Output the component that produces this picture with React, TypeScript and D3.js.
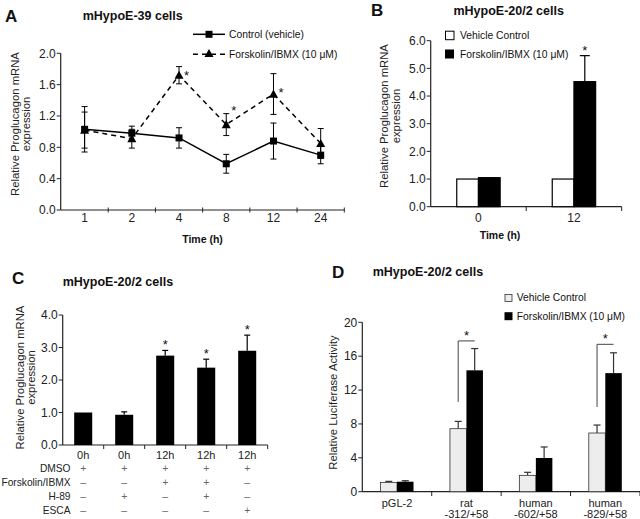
import React from "react";
import * as d3 from "d3";

// ---------- Data ----------
// Panel A
const timeLabelsA = ["1", "2", "4", "8", "12", "24"];
const controlA = [1.03, 0.98, 0.92, 0.59, 0.88, 0.70];
const controlAErr = [0.29, 0.09, 0.13, 0.12, 0.23, 0.11];
const forskA = [1.02, 0.91, 1.72, 1.09, 1.48, 0.85];
const forskAErr = [0.23, 0.12, 0.11, 0.14, 0.26, 0.19];
const starA: (number | null)[] = [null, null, 1.75, 1.3, 1.53, null];
const yTicksA = [0, 0.4, 0.8, 1.2, 1.6, 2.0];

// Panel B
const timeLabelsB = ["0", "12"];
const vehicleB = [1.0, 1.0];
const forskB = [1.05, 4.52];
const forskBErr = [0, 0.94];
const starB = [false, true];
const yTicksB = [0, 1, 2, 3, 4, 5, 6];

// Panel C
const timeLabelsC = ["0h", "0h", "12h", "12h", "12h"];
const valuesC = [1.0, 0.93, 2.75, 2.38, 2.9];
const errC = [0, 0.09, 0.16, 0.26, 0.48];
const starC = [false, false, true, true, true];
const rowNamesC = ["DMSO", "Forskolin/IBMX", "H-89", "ESCA"];
const dmsoC = ["+", "+", "+", "+", "+"];
const forskC = ["–", "–", "+", "+", "–"];
const h89C = ["–", "+", "–", "+", "–"];
const escaC = ["–", "–", "–", "–", "+"];
const yTicksC = [0, 1, 2, 3, 4];

// Panel D
const constructsD = ["pGL-2", "rat", "human", "human"];
const constructs2D = ["", "-312/+58", "-602/+58", "-829/+58"];
const vehicleD = [1.1, 7.44, 1.93, 6.93];
const vehicleDErr = [0.12, 0.86, 0.36, 0.94];
const forskD = [1.18, 14.33, 3.98, 14.0];
const forskDErr = [0.12, 2.57, 1.3, 2.4];
const bracketLowD: (number | null)[] = [null, 10.6, null, 10.0];
const bracketHighD: (number | null)[] = [null, 17.8, null, 17.4];
const yTicksD = [0, 4, 8, 12, 16, 20];

const FONT = "'Liberation Sans', Arial, Helvetica, sans-serif";
const AX = "#222";

function YAxis({ y, ticks, x, fmt }: any) {
  const [r0, r1] = y.range();
  return (
    <g>
      <line x1={x} x2={x} y1={r0} y2={r1} stroke={AX} strokeWidth={1.2} />
      {ticks.map((t: number) => (
        <g key={t}>
          <line x1={x - 4} x2={x} y1={y(t)} y2={y(t)} stroke={AX} strokeWidth={1} />
          <text x={x - 5} y={y(t)} dy="0.35em" textAnchor="end" fontSize={12} fill="#222" fontFamily={FONT}>
            {fmt(t)}
          </text>
        </g>
      ))}
    </g>
  );
}

export default function App() {
  // ---------- Panel A ----------
  const xA = d3.scaleBand<string>().domain(timeLabelsA).range([61, 344.3]);
  const yA = d3.scaleLinear().domain([0, 2]).range([210, 53.3]);
  const cxA = (i: number) => (xA(timeLabelsA[i]) as number) + xA.bandwidth() / 2;
  const lineA = d3
    .line<number>()
    .x((_, i) => cxA(i))
    .y((d) => yA(d));

  // ---------- Panel B ----------
  const xB = d3.scaleBand<string>().domain(timeLabelsB).range([430.7, 621.7]);
  const xBi = d3.scaleBand<string>().domain(["veh", "forsk"]).range([-21.7, 21.7]);
  const yB = d3.scaleLinear().domain([0, 6]).range([206.7, 40.7]);
  const cB = (i: number) => (xB(timeLabelsB[i]) as number) + xB.bandwidth() / 2;

  // ---------- Panel C ----------
  const idxC = valuesC.map((_, i) => String(i));
  const xC = d3.scaleBand<string>().domain(idxC).range([62.7, 267.7]);
  const yC = d3.scaleLinear().domain([0, 4]).range([445, 315]);
  const bwC = xC.bandwidth() * 0.44;
  const cC = (i: number) => (xC(idxC[i]) as number) + xC.bandwidth() / 2;
  const rowsC = [dmsoC, forskC, h89C, escaC];

  // ---------- Panel D ----------
  const idxD = constructsD.map((_, i) => String(i));
  const xD = d3.scaleBand<string>().domain(idxD).range([362.3, 640]);
  const xDi = d3.scaleBand<string>().domain(["veh", "forsk"]).range([-16.5, 16.5]);
  const yD = d3.scaleLinear().domain([0, 20]).range([491.7, 322.3]);
  const cD = (i: number) => (xD(idxD[i]) as number) + xD.bandwidth() / 2;

  const tri = (x: number, y: number, s = 5) => `M${x},${y - s}L${x + s},${y + s * 0.8}L${x - s},${y + s * 0.8}Z`;

  return (
    <svg
      width={640}
      height={519}
      style={{ position: "absolute", left: 0, top: 0, background: "#fff" }}
      fontFamily={FONT}
    >
      <rect width={640} height={519} fill="#fff" />
      {/* ================= Panel A ================= */}
      <g>
        <text x={5} y={22} fontSize={17} fontWeight="bold" fill="#111">A</text>
        <text x={82.7} y={19.5} fontSize={12.5} fontWeight="bold" fill="#111">mHypoE-39 cells</text>
        {/* legend */}
        <line x1={193} x2={225} y1={34.3} y2={34.3} stroke="#000" strokeWidth={1.5} />
        <rect x={205.5} y={30.8} width={7} height={7} fill="#000" />
        <text x={229} y={34.3} dy="0.35em" fontSize={10.3} fill="#111">Control (vehicle)</text>
        <line x1={193} x2={225} y1={54.3} y2={54.3} stroke="#000" strokeWidth={1.5} strokeDasharray="5,4" />
        <path d={tri(209, 53.5, 4.5)} fill="#000" />
        <text x={229} y={54.3} dy="0.35em" fontSize={10.3} fill="#111">Forskolin/IBMX (10 μM)</text>

        <YAxis y={yA} ticks={yTicksA} x={60.7} fmt={d3.format(".1f")} />
        <line x1={60.7} x2={344.3} y1={210} y2={210} stroke={AX} strokeWidth={1.2} />
        {timeLabelsA.map((t, i) => (
          <g key={t}>
            <line
              x1={(xA(t) as number) + xA.bandwidth()}
              x2={(xA(t) as number) + xA.bandwidth()}
              y1={207.5}
              y2={212.5}
              stroke={AX}
            />
            <text x={cxA(i)} y={218} dy="0.35em" textAnchor="middle" fontSize={12} fill="#222">
              {t}
            </text>
          </g>
        ))}
        <text x={202.5} y={239} dy="0.35em" textAnchor="middle" fontSize={10.5} fontWeight="bold" fill="#111">
          Time (h)
        </text>
        <text transform="translate(15,124) rotate(-90)" textAnchor="middle" dy="0.35em" fontSize={11.3} fill="#222">
          Relative Proglucagon mRNA
        </text>
        <text transform="translate(26.5,124) rotate(-90)" textAnchor="middle" dy="0.35em" fontSize={11.3} fill="#222">
          expression
        </text>

        {/* error bars */}
        {controlA.map((v, i) => (
          <g key={"ce" + i} stroke="#000" strokeWidth={1}>
            <line x1={cxA(i)} x2={cxA(i)} y1={yA(v - controlAErr[i])} y2={yA(v + controlAErr[i])} />
            <line x1={cxA(i) - 3} x2={cxA(i) + 3} y1={yA(v - controlAErr[i])} y2={yA(v - controlAErr[i])} />
            <line x1={cxA(i) - 3} x2={cxA(i) + 3} y1={yA(v + controlAErr[i])} y2={yA(v + controlAErr[i])} />
          </g>
        ))}
        {forskA.map((v, i) => (
          <g key={"fe" + i} stroke="#000" strokeWidth={1}>
            <line x1={cxA(i)} x2={cxA(i)} y1={yA(v - forskAErr[i])} y2={yA(v + forskAErr[i])} />
            <line x1={cxA(i) - 3} x2={cxA(i) + 3} y1={yA(v - forskAErr[i])} y2={yA(v - forskAErr[i])} />
            <line x1={cxA(i) - 3} x2={cxA(i) + 3} y1={yA(v + forskAErr[i])} y2={yA(v + forskAErr[i])} />
          </g>
        ))}
        <path d={lineA(forskA) as string} fill="none" stroke="#000" strokeWidth={1.5} strokeDasharray="5,4" />
        <path d={lineA(controlA) as string} fill="none" stroke="#000" strokeWidth={1.5} />
        {forskA.map((v, i) => (
          <path key={"ft" + i} d={tri(cxA(i), yA(v), 4.5)} fill="#000" />
        ))}
        {controlA.map((v, i) => (
          <rect key={"cs" + i} x={cxA(i) - 3.5} y={yA(v) - 3.5} width={7} height={7} fill="#000" />
        ))}
        {starA.map((s, i) =>
          s == null ? null : (
            <text key={"sa" + i} x={cxA(i) + 7.5} y={yA(s) + 7} textAnchor="middle" fontSize={13} fill="#111">
              *
            </text>
          )
        )}
      </g>

      {/* ================= Panel B ================= */}
      <g>
        <text x={371} y={15.5} fontSize={17} fontWeight="bold" fill="#111">B</text>
        <text x={508.7} y={15} textAnchor="middle" fontSize={12.5} fontWeight="bold" fill="#111">
          mHypoE-20/2 cells
        </text>
        <rect x={445.5} y={31.2} width={8.5} height={8.5} fill="#fff" stroke="#000" strokeWidth={1} />
        <text x={460} y={35.7} dy="0.35em" fontSize={10.3} fill="#111">Vehicle Control</text>
        <rect x={445} y={49.5} width={9} height={9} fill="#000" />
        <text x={460} y={54} dy="0.35em" fontSize={10.3} fill="#111">Forskolin/IBMX (10 μM)</text>

        <YAxis y={yB} ticks={yTicksB} x={430.7} fmt={d3.format(".1f")} />
        <line x1={430.7} x2={621.7} y1={206.7} y2={206.7} stroke={AX} strokeWidth={1.2} />
        {timeLabelsB.map((t, i) => (
          <g key={t}>
            <line
              x1={(xB(t) as number) + xB.bandwidth()}
              x2={(xB(t) as number) + xB.bandwidth()}
              y1={206.7}
              y2={211}
              stroke={AX}
            />
            <text x={cB(i)} y={218} dy="0.35em" textAnchor="middle" fontSize={12} fill="#222">
              {t}
            </text>
          </g>
        ))}
        <text x={500} y={235} dy="0.35em" textAnchor="middle" fontSize={10.5} fontWeight="bold" fill="#111">
          Time (h)
        </text>
        <text transform="translate(384.3,116) rotate(-90)" textAnchor="middle" dy="0.35em" fontSize={11.3} fill="#222">
          Relative Proglucagon mRNA
        </text>
        <text transform="translate(395.8,116) rotate(-90)" textAnchor="middle" dy="0.35em" fontSize={11.3} fill="#222">
          expression
        </text>
        {timeLabelsB.map((t, i) => {
          const c = cB(i);
          const xv = c + (xBi("veh") as number);
          const xf = c + (xBi("forsk") as number);
          const w = xBi.bandwidth();
          const top = yB(forskB[i] + forskBErr[i]);
          return (
            <g key={"bb" + i}>
              <rect x={xv} y={yB(vehicleB[i])} width={w} height={yB(0) - yB(vehicleB[i])} fill="#fff" stroke="#000" strokeWidth={1.2} />
              <rect x={xf} y={yB(forskB[i])} width={w} height={yB(0) - yB(forskB[i])} fill="#000" stroke="#000" strokeWidth={1.2} />
              {forskBErr[i] > 0 && (
                <g stroke="#000" strokeWidth={1.2}>
                  <line x1={xf + w / 2} x2={xf + w / 2} y1={yB(forskB[i])} y2={top} />
                  <line x1={xf + w / 2 - 5} x2={xf + w / 2 + 5} y1={top} y2={top} />
                </g>
              )}
              {starB[i] && (
                <text x={xf + w / 2} y={top - 0.5} textAnchor="middle" fontSize={13} fill="#111">
                  *
                </text>
              )}
            </g>
          );
        })}
      </g>

      {/* ================= Panel C ================= */}
      <g>
        <text x={12} y={283.5} fontSize={17} fontWeight="bold" fill="#111">C</text>
        <text x={62.7} y={285.5} fontSize={12.5} fontWeight="bold" fill="#111">mHypoE-20/2 cells</text>
        <YAxis y={yC} ticks={yTicksC} x={62.7} fmt={d3.format(".1f")} />
        <line x1={62.7} x2={267.7} y1={445} y2={445} stroke={AX} strokeWidth={1.2} />
        <text transform="translate(20,377.5) rotate(-90)" textAnchor="middle" dy="0.35em" fontSize={11.3} fill="#222">
          Relative Proglucagon mRNA
        </text>
        <text transform="translate(31.5,377.5) rotate(-90)" textAnchor="middle" dy="0.35em" fontSize={11.3} fill="#222">
          expression
        </text>
        {valuesC.map((v, i) => {
          const c = cC(i);
          const top = yC(v + errC[i]);
          return (
            <g key={"c" + i}>
              <line
                x1={(xC(idxC[i]) as number) + xC.bandwidth()}
                x2={(xC(idxC[i]) as number) + xC.bandwidth()}
                y1={445}
                y2={449}
                stroke={AX}
              />
              <rect x={c - bwC / 2} y={yC(v)} width={bwC} height={yC(0) - yC(v)} fill="#000" />
              {errC[i] > 0 && (
                <g stroke="#000" strokeWidth={1.2}>
                  <line x1={c} x2={c} y1={yC(v)} y2={top} />
                  <line x1={c - 3} x2={c + 3} y1={top} y2={top} />
                </g>
              )}
              {starC[i] && (
                <text x={c} y={top - 1.5} textAnchor="middle" fontSize={13} fill="#111">
                  *
                </text>
              )}
              <text x={c} y={455} dy="0.35em" textAnchor="middle" fontSize={11} fill="#222">
                {timeLabelsC[i]}
              </text>
            </g>
          );
        })}
        {rowNamesC.map((name, r) => (
          <g key={name}>
            <text x={70.5} y={468.3 + r * 13.9} dy="0.35em" textAnchor="end" fontSize={10.2} fill="#222">
              {name}
            </text>
            {rowsC[r].map((s, i) => (
              <text key={i} x={cC(i)} y={468.3 + r * 13.9} dy="0.35em" textAnchor="middle" fontSize={10.5} fill="#666">
                {s}
              </text>
            ))}
          </g>
        ))}
      </g>

      {/* ================= Panel D ================= */}
      <g>
        <text x={332} y={278} fontSize={17} fontWeight="bold" fill="#111">D</text>
        <text x={372.7} y={276} fontSize={12.5} fontWeight="bold" fill="#111">mHypoE-20/2 cells</text>
        <rect x={505} y={294.5} width={7} height={7} fill="#ededed" stroke="#333" strokeWidth={0.8} />
        <text x={516.7} y={297.7} dy="0.35em" fontSize={10.3} fill="#111">Vehicle Control</text>
        <rect x={504.5} y={312.2} width={8} height={8} fill="#000" />
        <text x={516.7} y={316} dy="0.35em" fontSize={10.3} fill="#111">Forskolin/IBMX (10 μM)</text>

        <YAxis y={yD} ticks={yTicksD} x={362.3} fmt={d3.format("d")} />
        <line x1={362.3} x2={640} y1={491.7} y2={491.7} stroke={AX} strokeWidth={1.2} />
        <text transform="translate(333,402.5) rotate(-90)" textAnchor="middle" dy="0.35em" fontSize={11.3} fill="#222">
          Relative Luciferase Activity
        </text>
        {constructsD.map((name, i) => {
          const c = cD(i);
          const w = xDi.bandwidth();
          const xv = c + (xDi("veh") as number);
          const xf = c + (xDi("forsk") as number);
          const tv = yD(vehicleD[i] + vehicleDErr[i]);
          const tf = yD(forskD[i] + forskDErr[i]);
          const bl = bracketLowD[i];
          const bh = bracketHighD[i];
          return (
            <g key={"d" + i}>
              <line
                x1={(xD(idxD[i]) as number) + xD.bandwidth()}
                x2={(xD(idxD[i]) as number) + xD.bandwidth()}
                y1={491.7}
                y2={496}
                stroke={AX}
              />
              <g stroke="#333" strokeWidth={1.2}>
                <line x1={xv + w / 2} x2={xv + w / 2} y1={yD(vehicleD[i])} y2={tv} />
                <line x1={xv + w / 2 - 3.5} x2={xv + w / 2 + 3.5} y1={tv} y2={tv} />
                <line x1={xf + w / 2} x2={xf + w / 2} y1={yD(forskD[i])} y2={tf} />
                <line x1={xf + w / 2 - 3.5} x2={xf + w / 2 + 3.5} y1={tf} y2={tf} />
              </g>
              <rect x={xv} y={yD(vehicleD[i])} width={w} height={yD(0) - yD(vehicleD[i])} fill="#ededed" stroke="#333" strokeWidth={0.8} />
              <rect x={xf} y={yD(forskD[i])} width={w} height={yD(0) - yD(forskD[i])} fill="#000" />
              {bl != null && bh != null && (
                <g>
                  <path
                    d={`M${xv + w / 2},${yD(bl)}V${yD(bh)}H${xf + w / 2}`}
                    fill="none"
                    stroke="#444"
                    strokeWidth={1}
                  />
                  <text x={c} y={yD(bh) - 1} textAnchor="middle" fontSize={13} fill="#111">
                    *
                  </text>
                </g>
              )}
              <text x={c} y={503} dy="0.35em" textAnchor="middle" fontSize={11} fill="#222">
                {name}
              </text>
              <text x={c} y={517.5} textAnchor="middle" fontSize={11} fill="#222">
                {constructs2D[i]}
              </text>
            </g>
          );
        })}
      </g>
    </svg>
  );
}
